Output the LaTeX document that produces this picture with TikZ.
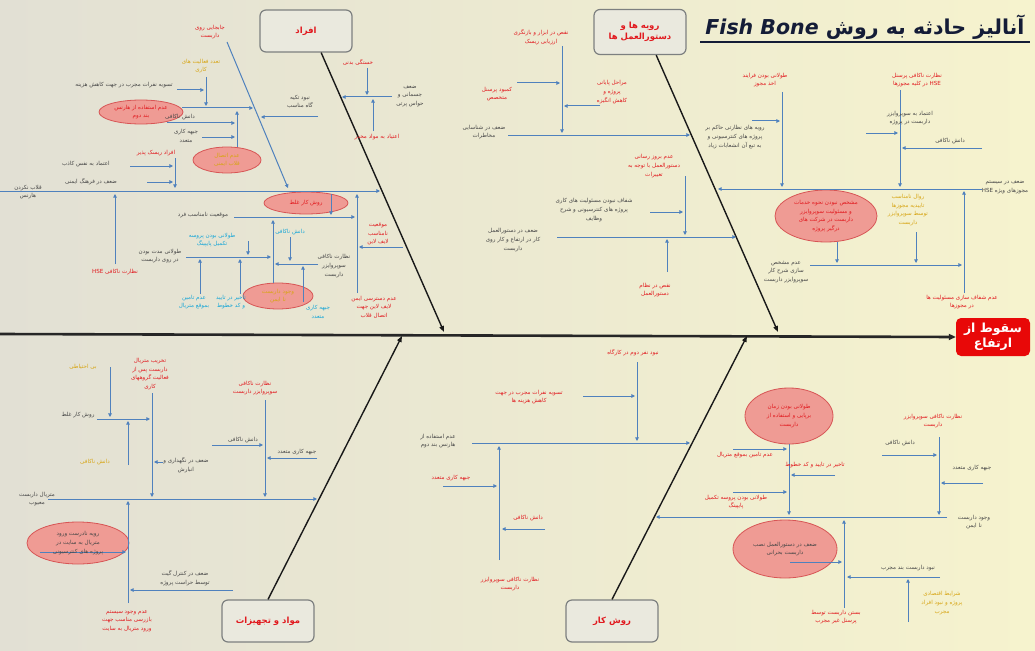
\documentclass[tikz,border=0pt]{standalone}
\usepackage{fontspec}
\usetikzlibrary{arrows.meta,shapes.geometric}
\newfontfamily\fa[Script=Arabic]{DejaVu Sans}
\newfontfamily\latb{DejaVu Sans}
\TeXXeTstate=1
\newcommand\rl[1]{\beginR #1\endR}
\definecolor{bgl}{RGB}{226,224,212}
\definecolor{bgr}{RGB}{246,243,206}
\definecolor{brc}{RGB}{79,129,189}
\definecolor{txtdk}{RGB}{70,70,70}
\definecolor{txtrd}{RGB}{225,25,30}
\definecolor{txtog}{RGB}{215,165,20}
\definecolor{txtcy}{RGB}{20,165,215}
\definecolor{elf}{RGB}{239,155,148}
\definecolor{eld}{RGB}{215,85,85}
\definecolor{catf}{RGB}{234,233,222}
\definecolor{catd}{RGB}{125,128,128}
\definecolor{hdf}{RGB}{232,8,8}
\definecolor{ttlc}{RGB}{20,28,55}

\begin{document}
\begin{tikzpicture}[x=1pt,y=-1pt,
  lab/.style={font=\fa\fontsize{5.6}{8.6}\selectfont, align=center, inner sep=0.5pt},
  dk/.style={lab, text=txtdk},
  rd/.style={lab, text=txtrd},
  og/.style={lab, text=txtog},
  cy/.style={lab, text=txtcy},
  hl/.style={ellipse, draw=eld, fill=elf, line width=0.8pt, inner sep=0pt},
  br/.style={draw=brc, line width=1pt, -{Triangle[length=3.6pt,width=3.6pt]}},
  bone/.style={draw=black!90, line width=1.4pt, -{Triangle[length=6pt,width=4.5pt]}},
  spine/.style={draw=black!85, line width=2.6pt, -{Triangle[length=7pt,width=6pt]}},
  cat/.style={draw=catd, line width=1.2pt, fill=catf, rounded corners=6pt, minimum width=92pt,
    minimum height=42pt, align=center, text=txtrd, font=\fa\fontsize{8.5}{11.5}\selectfont\bfseries},
  hd/.style={fill=hdf, rounded corners=5pt, minimum width=74pt, minimum height=38pt, align=center,
    text=white, font=\fa\fontsize{12.5}{15.5}\selectfont\bfseries},
  ttl/.style={text=ttlc, font=\fa\fontsize{20.5}{24}\selectfont\bfseries, inner sep=0pt}]
\useasboundingbox (0,0) rectangle (1035,650);
\shade[left color=bgl, right color=bgr] (0,0) rectangle (1035,650);

\node[ttl] (ttl) at (865,27) {\rl{آنالیز حادثه به روش \beginL{\latb\bfseries\itshape Fish Bone}\endL}};
\path (700,42) coordinate (ul1) (1030,42) coordinate (ul2);
\draw[ttlc, line width=1.3pt] (ul1) -- (ul2);

\node[hl, minimum width=84pt, minimum height=24pt] (e1) at (141,112) {};
\node[hl, minimum width=68pt, minimum height=26pt] (e2) at (227,160) {};
\node[hl, minimum width=70pt, minimum height=26pt] (e3) at (278,296) {};
\node[hl, minimum width=84pt, minimum height=22pt] (e4) at (306,203) {};
\node[hl, minimum width=102pt, minimum height=52pt] (e5) at (826,216) {};
\node[hl, minimum width=102pt, minimum height=42pt] (e6) at (78,543) {};
\node[hl, minimum width=88pt, minimum height=56pt] (e7) at (789,416) {};
\node[hl, minimum width=104pt, minimum height=58pt] (e8) at (785,549) {};

\node[hd] (hd) at (993,337) {\rl{سقوط از}\\\rl{ارتفاع}};
\coordinate (sp0) at (0,334);
\draw[spine] (sp0) -- (hd.west);

\node[cat] (k1) at (306,31) {\rl{افراد}};
\node[cat, minimum height=45pt] (k2) at (640,32) {\rl{رویه ها و}\\\rl{دستورالعمل ها}};
\node[cat] (k3) at (268,621) {\rl{مواد و تجهیزات}};
\node[cat] (k4) at (612,621) {\rl{روش کار}};
\path (444,332) coordinate (j1) (778,332) coordinate (j2) (402,336) coordinate (j3) (747,336) coordinate (j4);
\draw[bone] (k1.-55) -- (j1);
\draw[bone] (k2.-55) -- (j2);
\draw[bone] (k3.north) -- (j3);
\draw[bone] (k4.north) -- (j4);

\path (227,42) coordinate (p1) (288,188) coordinate (q1)
  (206,77) coordinate (p2) (206,106) coordinate (q2)
  (177,90) coordinate (p3) (204,90) coordinate (q3)
  (182,108) coordinate (p4) (253,108) coordinate (q4)
  (167,123) coordinate (p5) (235,123) coordinate (q5)
  (202,137) coordinate (p6) (235,137) coordinate (q6)
  (237,147) coordinate (p7) (237,111) coordinate (q7)
  (175,158) coordinate (p8) (175,188) coordinate (q8)
  (130,166) coordinate (p9) (173,166) coordinate (q9)
  (147,182) coordinate (p10) (173,182) coordinate (q10)
  (0,191) coordinate (p11) (380,191) coordinate (q11)
  (115,264) coordinate (p12) (115,194) coordinate (q12)
  (234,217) coordinate (p13) (355,217) coordinate (q13)
  (248,241) coordinate (p14) (248,255) coordinate (q14)
  (186,257) coordinate (p15) (271,257) coordinate (q15)
  (200,294) coordinate (p16) (200,259) coordinate (q16)
  (240,294) coordinate (p17) (240,259) coordinate (q17)
  (273,283) coordinate (p18) (273,220) coordinate (q18)
  (290,237) coordinate (p19) (290,261) coordinate (q19)
  (318,264) coordinate (p20) (275,264) coordinate (q20)
  (303,302) coordinate (p21) (303,266) coordinate (q21)
  (331,194) coordinate (p22) (331,215) coordinate (q22)
  (403,247) coordinate (p23) (359,247) coordinate (q23)
  (357,293) coordinate (p24) (357,194) coordinate (q24)
  (367,68) coordinate (p25) (367,95) coordinate (q25)
  (392,97) coordinate (p26) (342,97) coordinate (q26)
  (373,131) coordinate (p27) (373,99) coordinate (q27)
  (318,117) coordinate (p28) (261,117) coordinate (q28);
\foreach \i in {1,...,28} \draw[br] (p\i) -- (q\i);

\path (562,46) coordinate (p29) (562,133) coordinate (q29)
  (517,83) coordinate (p30) (560,83) coordinate (q30)
  (600,106) coordinate (p31) (564,106) coordinate (q31)
  (508,135) coordinate (p32) (690,135) coordinate (q32)
  (685,176) coordinate (p33) (685,235) coordinate (q33)
  (650,212) coordinate (p34) (683,212) coordinate (q34)
  (557,237) coordinate (p35) (736,237) coordinate (q35)
  (667,272) coordinate (p36) (667,239) coordinate (q36)
  (782,92) coordinate (p37) (782,187) coordinate (q37)
  (752,121) coordinate (p38) (780,121) coordinate (q38)
  (900,90) coordinate (p39) (900,187) coordinate (q39)
  (866,133) coordinate (p40) (898,133) coordinate (q40)
  (982,148) coordinate (p41) (902,148) coordinate (q41)
  (982,189) coordinate (p42) (718,189) coordinate (q42)
  (837,242) coordinate (p43) (837,263) coordinate (q43)
  (916,232) coordinate (p44) (916,263) coordinate (q44)
  (810,265) coordinate (p45) (962,265) coordinate (q45)
  (964,293) coordinate (p46) (964,191) coordinate (q46);
\foreach \i in {29,...,46} \draw[br] (p\i) -- (q\i);

\path (48,499) coordinate (p47) (317,499) coordinate (q47)
  (152,393) coordinate (p48) (152,497) coordinate (q48)
  (110,367) coordinate (p49) (110,417) coordinate (q49)
  (97,419) coordinate (p50) (150,419) coordinate (q50)
  (128,465) coordinate (p51) (128,421) coordinate (q51)
  (163,462) coordinate (p52) (154,462) coordinate (q52)
  (265,400) coordinate (p53) (265,497) coordinate (q53)
  (212,445) coordinate (p54) (263,445) coordinate (q54)
  (317,458) coordinate (p55) (267,458) coordinate (q55)
  (128,603) coordinate (p56) (128,501) coordinate (q56)
  (40,552) coordinate (p57) (126,552) coordinate (q57)
  (233,590) coordinate (p58) (130,590) coordinate (q58);
\foreach \i in {47,...,58} \draw[br] (p\i) -- (q\i);

\path (637,362) coordinate (p59) (637,441) coordinate (q59)
  (583,396) coordinate (p60) (635,396) coordinate (q60)
  (472,443) coordinate (p61) (690,443) coordinate (q61)
  (443,486) coordinate (p62) (497,486) coordinate (q62)
  (545,529) coordinate (p63) (502,529) coordinate (q63)
  (499,560) coordinate (p64) (499,446) coordinate (q64)
  (789,444) coordinate (p65) (789,515) coordinate (q65)
  (733,449) coordinate (p66) (787,449) coordinate (q66)
  (835,475) coordinate (p67) (791,475) coordinate (q67)
  (733,492) coordinate (p68) (787,492) coordinate (q68)
  (947,517) coordinate (p69) (656,517) coordinate (q69)
  (939,437) coordinate (p70) (939,515) coordinate (q70)
  (882,455) coordinate (p71) (937,455) coordinate (q71)
  (983,483) coordinate (p72) (941,483) coordinate (q72)
  (844,608) coordinate (p73) (844,520) coordinate (q73)
  (790,562) coordinate (p74) (842,562) coordinate (q74)
  (940,577) coordinate (p75) (847,577) coordinate (q75)
  (908,622) coordinate (p76) (908,579) coordinate (q76);
\foreach \i in {59,...,76} \draw[br] (p\i) -- (q\i);

\node[rd] (n1) at (210,32) {\rl{جابجایی روی}\\\rl{داربست}};
\node[og] (n2) at (201,66) {\rl{تعدد فعالیت های}\\\rl{کاری}};
\node[dk] (n3) at (124,85) {\rl{تسویه نفرات مجرب در جهت کاهش هزینه}};
\node[rd] (t1) at (e1) {\rl{عدم استفاده از هارنس}\\\rl{بند دوم}};
\node[dk] (n4) at (180,117) {\rl{دانش ناکافی}};
\node[dk] (n5) at (186,136) {\rl{جبهه کاری}\\\rl{متعدد}};
\node[og] (t2) at (e2) {\rl{عدم اتصال}\\\rl{قلاب ایمنی}};
\node[rd] (n6) at (156,153) {\rl{افراد ریسک پذیر}};
\node[dk] (n7) at (86,164) {\rl{اعتماد به نفس کاذب}};
\node[dk] (n8) at (91,182) {\rl{ضعف در فرهنگ ایمنی}};
\node[dk] (n9) at (28,192) {\rl{قلاب نکردن}\\\rl{هارنس}};
\node[rd] (n10) at (115,272) {\rl{نظارت ناکافی \beginL HSE\endL}};
\node[dk] (n11) at (203,215) {\rl{موقعیت نامناسب فرد}};
\node[cy] (n12) at (212,240) {\rl{طولانی بودن پروسه}\\\rl{تکمیل پایپینگ}};
\node[dk] (n13) at (160,256) {\rl{طولانی مدت بودن}\\\rl{در روی داربست}};
\node[cy] (n14) at (194,302) {\rl{عدم تامین}\\\rl{بموقع متریال}};
\node[cy] (n15) at (231,302) {\rl{تاخیر در تایید}\\\rl{و کد خطوط}};
\node[og] (t3) at (e3) {\rl{وجود داربست}\\\rl{نا ایمن}};
\node[cy] (n16) at (290,232) {\rl{دانش ناکافی}};
\node[dk] (n17) at (334,266) {\rl{نظارت ناکافی}\\\rl{سوپروایزر}\\\rl{داربست}};
\node[cy] (n18) at (318,312) {\rl{جبهه کاری}\\\rl{متعدد}};
\node[rd] (t4) at (e4) {\rl{روش کار غلط}};
\node[rd] (n19) at (378,234) {\rl{موقعیت}\\\rl{نامناسب}\\\rl{لایف لاین}};
\node[rd] (n20) at (374,307) {\rl{عدم دسترسی ایمن}\\\rl{لایف لاین جهت}\\\rl{اتصال قلاب}};
\node[rd] (n21) at (358,62) {\rl{خستگی بدنی}};
\node[dk] (n22) at (410,96) {\rl{ضعف}\\\rl{جسمانی و}\\\rl{حواس پرتی}};
\node[rd] (n23) at (377,137) {\rl{اعتیاد به مواد مخدر}};
\node[dk] (n24) at (300,102) {\rl{نبود تکیه}\\\rl{گاه مناسب}};

\node[rd] (n25) at (541,37) {\rl{نقص در ابزار و بازنگری}\\\rl{ارزیابی ریسک}};
\node[rd] (n26) at (497,94) {\rl{کمبود پرسنل}\\\rl{متخصص}};
\node[rd] (n27) at (612,92) {\rl{مراحل پایانی}\\\rl{پروژه و}\\\rl{کاهش انگیزه}};
\node[dk] (n28) at (484,132) {\rl{ضعف در شناسایی}\\\rl{مخاطرات}};
\node[rd] (n29) at (654,166) {\rl{عدم بروز رسانی}\\\rl{دستورالعمل با توجه به}\\\rl{تغییرات}};
\node[dk] (n30) at (594,210) {\rl{شفاف نبودن مسئولیت های کاری}\\\rl{پروژه های کنترسیونی و شرح}\\\rl{وظایف}};
\node[dk] (n31) at (513,240) {\rl{ضعف در دستورالعمل}\\\rl{کار در ارتفاع و کار روی}\\\rl{داربست}};
\node[rd] (n32) at (655,290) {\rl{نقص در نظام}\\\rl{دستورالعمل}};
\node[rd] (n33) at (765,80) {\rl{طولانی بودن فرایند}\\\rl{اخذ مجوز}};
\node[dk] (n34) at (735,137) {\rl{رویه های نظارتی حاکم بر}\\\rl{پروژه های کنترسیونی و}\\\rl{به تبع آن انشعابات زیاد}};
\node[rd] (n35) at (917,80) {\rl{نظارت ناکافی پرسنل}\\\rl{\beginL HSE\endL{} در کلیه مجوزها}};
\node[dk] (n36) at (910,118) {\rl{اعتماد به سوپروایزر}\\\rl{داربست در پروژه}};
\node[dk] (n37) at (950,141) {\rl{دانش ناکافی}};
\node[dk] (n38) at (1005,187) {\rl{ضعف در سیستم}\\\rl{مجوزهای ویژه \beginL HSE\endL}};
\node[rd] (t5) at (e5) {\rl{مشخص نبودن نحوه خدمات}\\\rl{و مسئولیت سوپروایزر}\\\rl{داربست در شرکت های}\\\rl{درگیر پروژه}};
\node[og] (n39) at (908,210) {\rl{روال نامناسب}\\\rl{تاییدیه مجوزها}\\\rl{توسط سوپروایزر}\\\rl{داربست}};
\node[dk] (n40) at (786,272) {\rl{عدم مشخص}\\\rl{سازی شرح کار}\\\rl{سوپروایزر داربست}};
\node[rd] (n41) at (962,302) {\rl{عدم شفاف سازی مسئولیت ها}\\\rl{در مجوزها}};

\node[dk] (n42) at (37,499) {\rl{متریال داربست}\\\rl{معیوب}};
\node[rd] (n43) at (150,374) {\rl{تخریب متریال}\\\rl{داربست پس از}\\\rl{فعالیت گروههای}\\\rl{کاری}};
\node[og] (n44) at (83,367) {\rl{بی احتیاطی}};
\node[dk] (n45) at (78,415) {\rl{روش کار غلط}};
\node[og] (n46) at (95,462) {\rl{دانش ناکافی}};
\node[dk] (n47) at (186,465) {\rl{ضعف در نگهداری و}\\\rl{انبارش}};
\node[rd] (n48) at (255,388) {\rl{نظارت ناکافی}\\\rl{سوپروایزر داربست}};
\node[dk] (n49) at (243,440) {\rl{دانش ناکافی}};
\node[dk] (n50) at (297,452) {\rl{جبهه کاری متعدد}};
\node[rd] (n51) at (127,621) {\rl{عدم وجود سیستم}\\\rl{بازرسی مناسب جهت}\\\rl{ورود متریال به سایت}};
\node[dk] (t6) at (e6) {\rl{رویه نادرست ورود}\\\rl{متریال به سایت در}\\\rl{پروژه های کنترسیونی}};
\node[dk] (n52) at (185,578) {\rl{ضعف در کنترل گیت}\\\rl{توسط حراست پروژه}};

\node[rd] (n53) at (633,353) {\rl{نبود نفر دوم در کارگاه}};
\node[rd] (n54) at (529,397) {\rl{تسویه نفرات مجرب در جهت}\\\rl{کاهش هزینه ها}};
\node[dk] (n55) at (438,441) {\rl{عدم استفاده از}\\\rl{هارنس بند دوم}};
\node[rd] (n56) at (451,478) {\rl{جبهه کاری متعدد}};
\node[rd] (n57) at (528,518) {\rl{دانش ناکافی}};
\node[rd] (n58) at (510,584) {\rl{نظارت ناکافی سوپروایزر}\\\rl{داربست}};
\node[rd] (t7) at (e7) {\rl{طولانی بودن زمان}\\\rl{برپایی و استفاده از}\\\rl{داربست}};
\node[rd] (n59) at (745,455) {\rl{عدم تامین بموقع متریال}};
\node[rd] (n60) at (815,465) {\rl{تاخیر در تایید و کد خطوط}};
\node[rd] (n61) at (736,502) {\rl{طولانی بودن پروسه تکمیل}\\\rl{پایپینگ}};
\node[dk] (n62) at (974,522) {\rl{وجود داربست}\\\rl{نا ایمن}};
\node[rd] (n63) at (933,421) {\rl{نظارت ناکافی سوپروایزر}\\\rl{داربست}};
\node[dk] (n64) at (900,443) {\rl{دانش ناکافی}};
\node[dk] (n65) at (972,468) {\rl{جبهه کاری متعدد}};
\node[rd] (n66) at (836,617) {\rl{بستن داربست توسط}\\\rl{پرسنل غیر مجرب}};
\node[dk] (t8) at (e8) {\rl{ضعف در دستورالعمل نصب}\\\rl{داربست بحرانی}};
\node[dk] (n67) at (908,568) {\rl{نبود داربست بند مجرب}};
\node[og] (n68) at (942,603) {\rl{شرایط اقتصادی}\\\rl{پروژه و نبود افراد}\\\rl{مجرب}};
\end{tikzpicture}
\end{document}
